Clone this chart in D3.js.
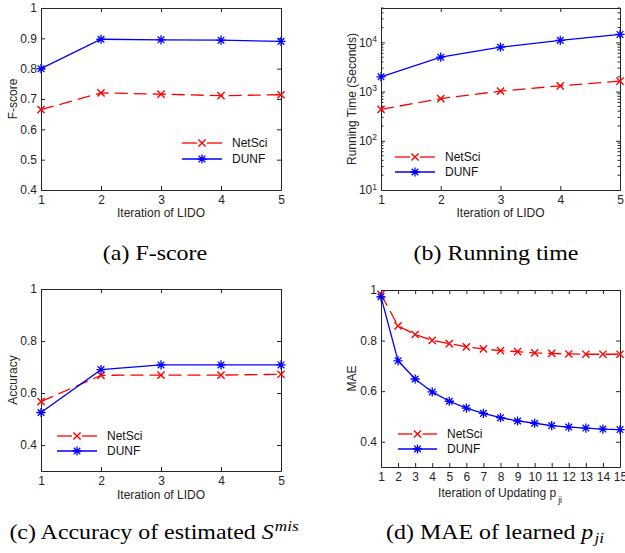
<!DOCTYPE html>
<html><head><meta charset="utf-8">
<script src="https://cdn.jsdelivr.net/npm/d3@7"></script>
<style>body{margin:0;background:#fff} svg{display:block}</style>
</head><body><svg id="c" width="625" height="553"></svg>
<script>
// ---------- data ----------
const lidoIterations = [1, 2, 3, 4, 5];
const updateIterations = [1, 2, 3, 4, 5, 6, 7, 8, 9, 10, 11, 12, 13, 14, 15];
const seriesNames = ["NetSci", "DUNF"];

const fscoreNetSci = [0.665, 0.720, 0.716, 0.711, 0.714];
const fscoreDUNF   = [0.800, 0.897, 0.895, 0.894, 0.890];

const timeNetSci = [435, 720, 1020, 1310, 1630];
const timeDUNF   = [2000, 5000, 8000, 11000, 14500];

const accNetSci = [0.567, 0.668, 0.669, 0.669, 0.672];
const accDUNF   = [0.525, 0.690, 0.708, 0.708, 0.708];

const maeNetSci = [0.983, 0.858, 0.824, 0.801, 0.788, 0.775, 0.767, 0.760, 0.756, 0.751, 0.749, 0.747, 0.746, 0.746, 0.746];
const maeDUNF   = [0.973, 0.720, 0.648, 0.597, 0.560, 0.533, 0.512, 0.495, 0.482, 0.473, 0.464, 0.458, 0.454, 0.450, 0.448];

const fscoreTicks = [0.4, 0.5, 0.6, 0.7, 0.8, 0.9, 1];
const fscoreTickLabels = ["0.4", "0.5", "0.6", "0.7", "0.8", "0.9", "1"];
const accTicks = [0.4, 0.6, 0.8, 1];
const accTickLabels = ["0.4", "0.6", "0.8", "1"];
const timeTicks = [10, 100, 1000, 10000];
const timeTickExponents = ["1", "2", "3", "4"];

// ---------- styling ----------
const AX = "#262626";
const FONT = "'Liberation Sans', Arial, Helvetica, sans-serif";
const SERIF = "'Liberation Serif', 'Times New Roman', serif";
const RED = "#ff0000", BLUE = "#0000ff";
const FS = 12;

const svg = d3.select("#c");

function markerX(g, cx, cy, color) {
  const r = 3.6;
  g.append("path")
    .attr("d", `M${cx - r},${cy - r}L${cx + r},${cy + r}M${cx - r},${cy + r}L${cx + r},${cy - r}`)
    .attr("stroke", color).attr("stroke-width", 1.4).attr("fill", "none");
}
function markerStar(g, cx, cy, color) {
  const r = 4.6, d = r * 0.72;
  g.append("path")
    .attr("d", `M${cx - r},${cy}L${cx + r},${cy}M${cx},${cy - r}L${cx},${cy + r}` +
               `M${cx - d},${cy - d}L${cx + d},${cy + d}M${cx - d},${cy + d}L${cx + d},${cy - d}`)
    .attr("stroke", color).attr("stroke-width", 1.3).attr("fill", "none");
}

function panel(cfg) {
  const g = svg.append("g");
  const x = d3.scaleLinear().domain(cfg.xDomain).range([cfg.left, cfg.right]);
  const y = (cfg.log ? d3.scaleLog() : d3.scaleLinear()).domain(cfg.yDomain).range([cfg.bottom, cfg.top]);

  const tick = 4;
  const style = sel => {
    sel.selectAll("path.domain").attr("stroke", AX).attr("stroke-width", 1);
    sel.selectAll(".tick line").attr("stroke", AX).attr("stroke-width", 1);
    sel.selectAll("text").attr("fill", AX).attr("font-family", FONT).attr("font-size", FS);
  };
  g.append("g").attr("transform", `translate(0,${cfg.bottom})`)
    .call(d3.axisBottom(x).tickValues(cfg.xTicks).tickFormat(d3.format("d")).tickSize(-tick).tickSizeOuter(0).tickPadding(5))
    .call(style);
  g.append("g").attr("transform", `translate(0,${cfg.top})`)
    .call(d3.axisTop(x).tickValues(cfg.xTicks).tickFormat("").tickSize(-tick).tickSizeOuter(0))
    .call(style);
  const yl = g.append("g").attr("transform", `translate(${cfg.left},0)`)
    .call(d3.axisLeft(y).tickValues(cfg.yTicks).tickSize(-tick).tickSizeOuter(0).tickPadding(4)
      .tickFormat((d, i) => cfg.log ? "" : cfg.yTickLabels[i]))
    .call(style);
  g.append("g").attr("transform", `translate(${cfg.right},0)`)
    .call(d3.axisRight(y).tickValues(cfg.yTicks).tickFormat("").tickSize(-tick).tickSizeOuter(0))
    .call(style);

  if (cfg.log) {
    yl.selectAll(".tick text").each(function (d, i) {
      const t = d3.select(this).text(null);
      t.append("tspan").text("10");
      t.append("tspan").attr("dy", "-0.55em").attr("font-size", 8.5).text(timeTickExponents[i]);
    });
    const minor = [];
    for (let e = 1; e <= 4; e++) for (let m = 2; m <= 9; m++) {
      const v = m * Math.pow(10, e);
      if (v <= cfg.yDomain[1]) minor.push(v);
    }
    minor.forEach(v => {
      g.append("line").attr("x1", cfg.left).attr("x2", cfg.left + 2.5)
        .attr("y1", y(v)).attr("y2", y(v)).attr("stroke", AX);
      g.append("line").attr("x1", cfg.right).attr("x2", cfg.right - 2.5)
        .attr("y1", y(v)).attr("y2", y(v)).attr("stroke", AX);
    });
  }

  const xl = g.append("text").attr("x", cfg.xLabelX || (cfg.left + cfg.right) / 2).attr("y", cfg.xLabelY)
    .attr("text-anchor", "middle").attr("font-family", FONT).attr("font-size", FS).attr("fill", AX)
    .text(cfg.xLabel);
  if (cfg.xLabelSub) {
    xl.append("tspan").attr("dy", 6).attr("dx", 2).attr("font-size", 8.5).text(cfg.xLabelSub);
  }
  g.append("text")
    .attr("transform", `translate(${cfg.yLabelX},${(cfg.top + cfg.bottom) / 2}) rotate(-90)`)
    .attr("text-anchor", "middle").attr("font-family", FONT).attr("font-size", FS).attr("fill", AX)
    .text(cfg.yLabel);

  const line = d3.line().x((d, i) => x(cfg.xs[i])).y(d => y(d));
  g.append("path").datum(cfg.a).attr("d", line).attr("fill", "none")
    .attr("stroke", RED).attr("stroke-width", 1.3).attr("stroke-dasharray", "13,6");
  g.append("path").datum(cfg.b).attr("d", line).attr("fill", "none")
    .attr("stroke", BLUE).attr("stroke-width", 1.3);
  cfg.a.forEach((v, i) => markerX(g, x(cfg.xs[i]), y(v), RED));
  cfg.b.forEach((v, i) => markerStar(g, x(cfg.xs[i]), y(v), BLUE));

  const L = cfg.legend;
  [[L.y1, RED, true], [L.y2, BLUE, false]].forEach(([ly, col, dashed], k) => {
    const mx = (L.x0 + L.x1) / 2;
    if (dashed) {
      g.append("line").attr("x1", L.x0).attr("x2", mx - 5).attr("y1", ly).attr("y2", ly)
        .attr("stroke", col).attr("stroke-width", 1.3);
      g.append("line").attr("x1", mx + 5).attr("x2", L.x1).attr("y1", ly).attr("y2", ly)
        .attr("stroke", col).attr("stroke-width", 1.3);
      markerX(g, mx, ly, col);
    } else {
      g.append("line").attr("x1", L.x0).attr("x2", L.x1).attr("y1", ly).attr("y2", ly)
        .attr("stroke", col).attr("stroke-width", 1.3);
      markerStar(g, mx, ly, col);
    }
    g.append("text").attr("x", L.tx).attr("y", ly).attr("dy", "0.36em")
      .attr("font-family", FONT).attr("font-size", FS).attr("fill", "#111").text(seriesNames[k]);
  });
}

panel({
  left: 41, right: 281, top: 8, bottom: 190,
  xDomain: [1, 5], xTicks: lidoIterations, xs: lidoIterations,
  yDomain: [0.4, 1], yTicks: fscoreTicks, yTickLabels: fscoreTickLabels,
  a: fscoreNetSci, b: fscoreDUNF,
  xLabel: "Iteration of LIDO", xLabelY: 217, yLabel: "F-score", yLabelX: 17,
  legend: { x0: 182, x1: 222, tx: 232, y1: 143, y2: 159 }
});
panel({
  left: 381, right: 620, top: 8, bottom: 190, log: true,
  xDomain: [1, 5], xTicks: lidoIterations, xs: lidoIterations,
  yDomain: [10, 50000], yTicks: timeTicks,
  a: timeNetSci, b: timeDUNF,
  xLabel: "Iteration of LIDO", xLabelY: 217, yLabel: "Running Time (Seconds)", yLabelX: 356,
  legend: { x0: 395, x1: 435, tx: 445, y1: 157, y2: 172 }
});
panel({
  left: 41, right: 281, top: 289, bottom: 471,
  xDomain: [1, 5], xTicks: lidoIterations, xs: lidoIterations,
  yDomain: [0.3, 1], yTicks: accTicks, yTickLabels: accTickLabels,
  a: accNetSci, b: accDUNF,
  xLabel: "Iteration of LIDO", xLabelY: 499, yLabel: "Accuracy", yLabelX: 17,
  legend: { x0: 57, x1: 97, tx: 107, y1: 436, y2: 451 }
});
panel({
  left: 381, right: 620, top: 290, bottom: 467,
  xDomain: [1, 15], xTicks: updateIterations, xs: updateIterations,
  yDomain: [0.3, 1], yTicks: accTicks, yTickLabels: accTickLabels,
  a: maeNetSci, b: maeDUNF,
  xLabel: "Iteration of Updating p", xLabelSub: "ji", xLabelX: 500, xLabelY: 497, yLabel: "MAE", yLabelX: 356,
  legend: { x0: 398, x1: 437, tx: 447, y1: 434, y2: 449 }
});

// captions
function caption(cx, cy, parts) {
  const t = svg.append("text")
    .attr("transform", `translate(${cx},${cy}) scale(1.14,1)`)
    .attr("text-anchor", "middle")
    .attr("font-family", SERIF).attr("font-size", 21).attr("fill", "#000");
  parts.forEach(p => {
    const s = t.append("tspan").text(p.t);
    if (p.italic) s.attr("font-style", "italic");
    if (p.size) s.attr("font-size", p.size);
    if (p.dy) s.attr("dy", p.dy);
    if (p.dx) s.attr("dx", p.dx);
  });
}
caption(155, 260, [{ t: "(a) F-score" }]);
caption(496, 260, [{ t: "(b) Running time" }]);
caption(154, 539, [{ t: "(c) Accuracy of estimated " }, { t: "S", italic: true }, { t: "mis", italic: true, size: 15, dy: -8, dx: 1 }]);
caption(495, 539, [{ t: "(d) MAE of learned " }, { t: "p", italic: true }, { t: "ji", italic: true, size: 15, dy: 4, dx: 1 }]);
</script></body></html>
